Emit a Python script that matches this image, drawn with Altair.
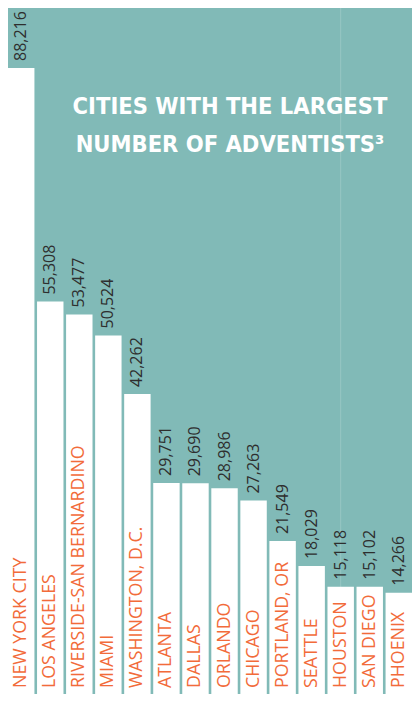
import altair as alt
import pandas as pd

cities = ["NEW YORK CITY", "LOS ANGELES", "RIVERSIDE-SAN BERNARDINO", "MIAMI",
          "WASHINGTON, D.C.", "ATLANTA", "DALLAS", "ORLANDO", "CHICAGO",
          "PORTLAND, OR", "SEATTLE", "HOUSTON", "SAN DIEGO", "PHOENIX"]
values = [88216, 55308, 53477, 50524, 42262, 29751, 29690, 28986, 27263,
          21549, 18029, 15118, 15102, 14266]
title_lines = ["CITIES WITH THE LARGEST", "NUMBER OF ADVENTISTS³"]
seam_city = ["HOUSTON"]

df = pd.DataFrame({"city": cities, "value": values,
                   "label": [f"{v:,}" for v in values]})

BG = "#81bab7"
ORANGE = "#f26b3a"

xscale = alt.Scale(paddingInner=0.09, paddingOuter=0)
x = alt.X("city:N", sort=cities, axis=None, scale=xscale)
yscale = alt.Scale(domain=[0, 96672], nice=False, zero=True)

base = alt.Chart(df)

seam = alt.Chart(pd.DataFrame({"city": seam_city})).mark_rule(
    color="white", opacity=0.18, strokeWidth=1
).encode(x=alt.X("city:N", sort=cities, axis=None, scale=xscale),
         y=alt.value(0), y2=alt.value(686))

bars = base.mark_bar(color="white").encode(
    x=x, y=alt.Y("value:Q", axis=None, scale=yscale))

vals = base.mark_text(angle=270, align="left", baseline="middle", dx=7,
                      font="Open Sans", fontSize=16, color="#2e2e2e").encode(
    x=x, y=alt.Y("value:Q", axis=None, scale=yscale), text="label:N")

names = base.mark_text(angle=270, align="left", baseline="middle", dx=6,
                       font="Open Sans", fontSize=17.8, color=ORANGE).encode(
    x=x, y=alt.datum(0), text="city:N")

title = alt.Chart(pd.DataFrame({"a": [0]})).mark_text(
    text=title_lines, align="center", baseline="alphabetic", lineHeight=38,
    font="DejaVu Sans Condensed, DejaVu Sans",
    fontWeight="bold", fontSize=23.5, color="white"
).encode(x=alt.value(222), y=alt.value(106))

chart = alt.layer(seam, bars, vals, names, title).properties(
    width=404, height=686, background=BG, padding=0,
    autosize=alt.AutoSizeParams(type="none")
).configure_view(stroke=None, fill=BG)

chart.save("out.html", embed_options={"renderer": "svg", "actions": False})
